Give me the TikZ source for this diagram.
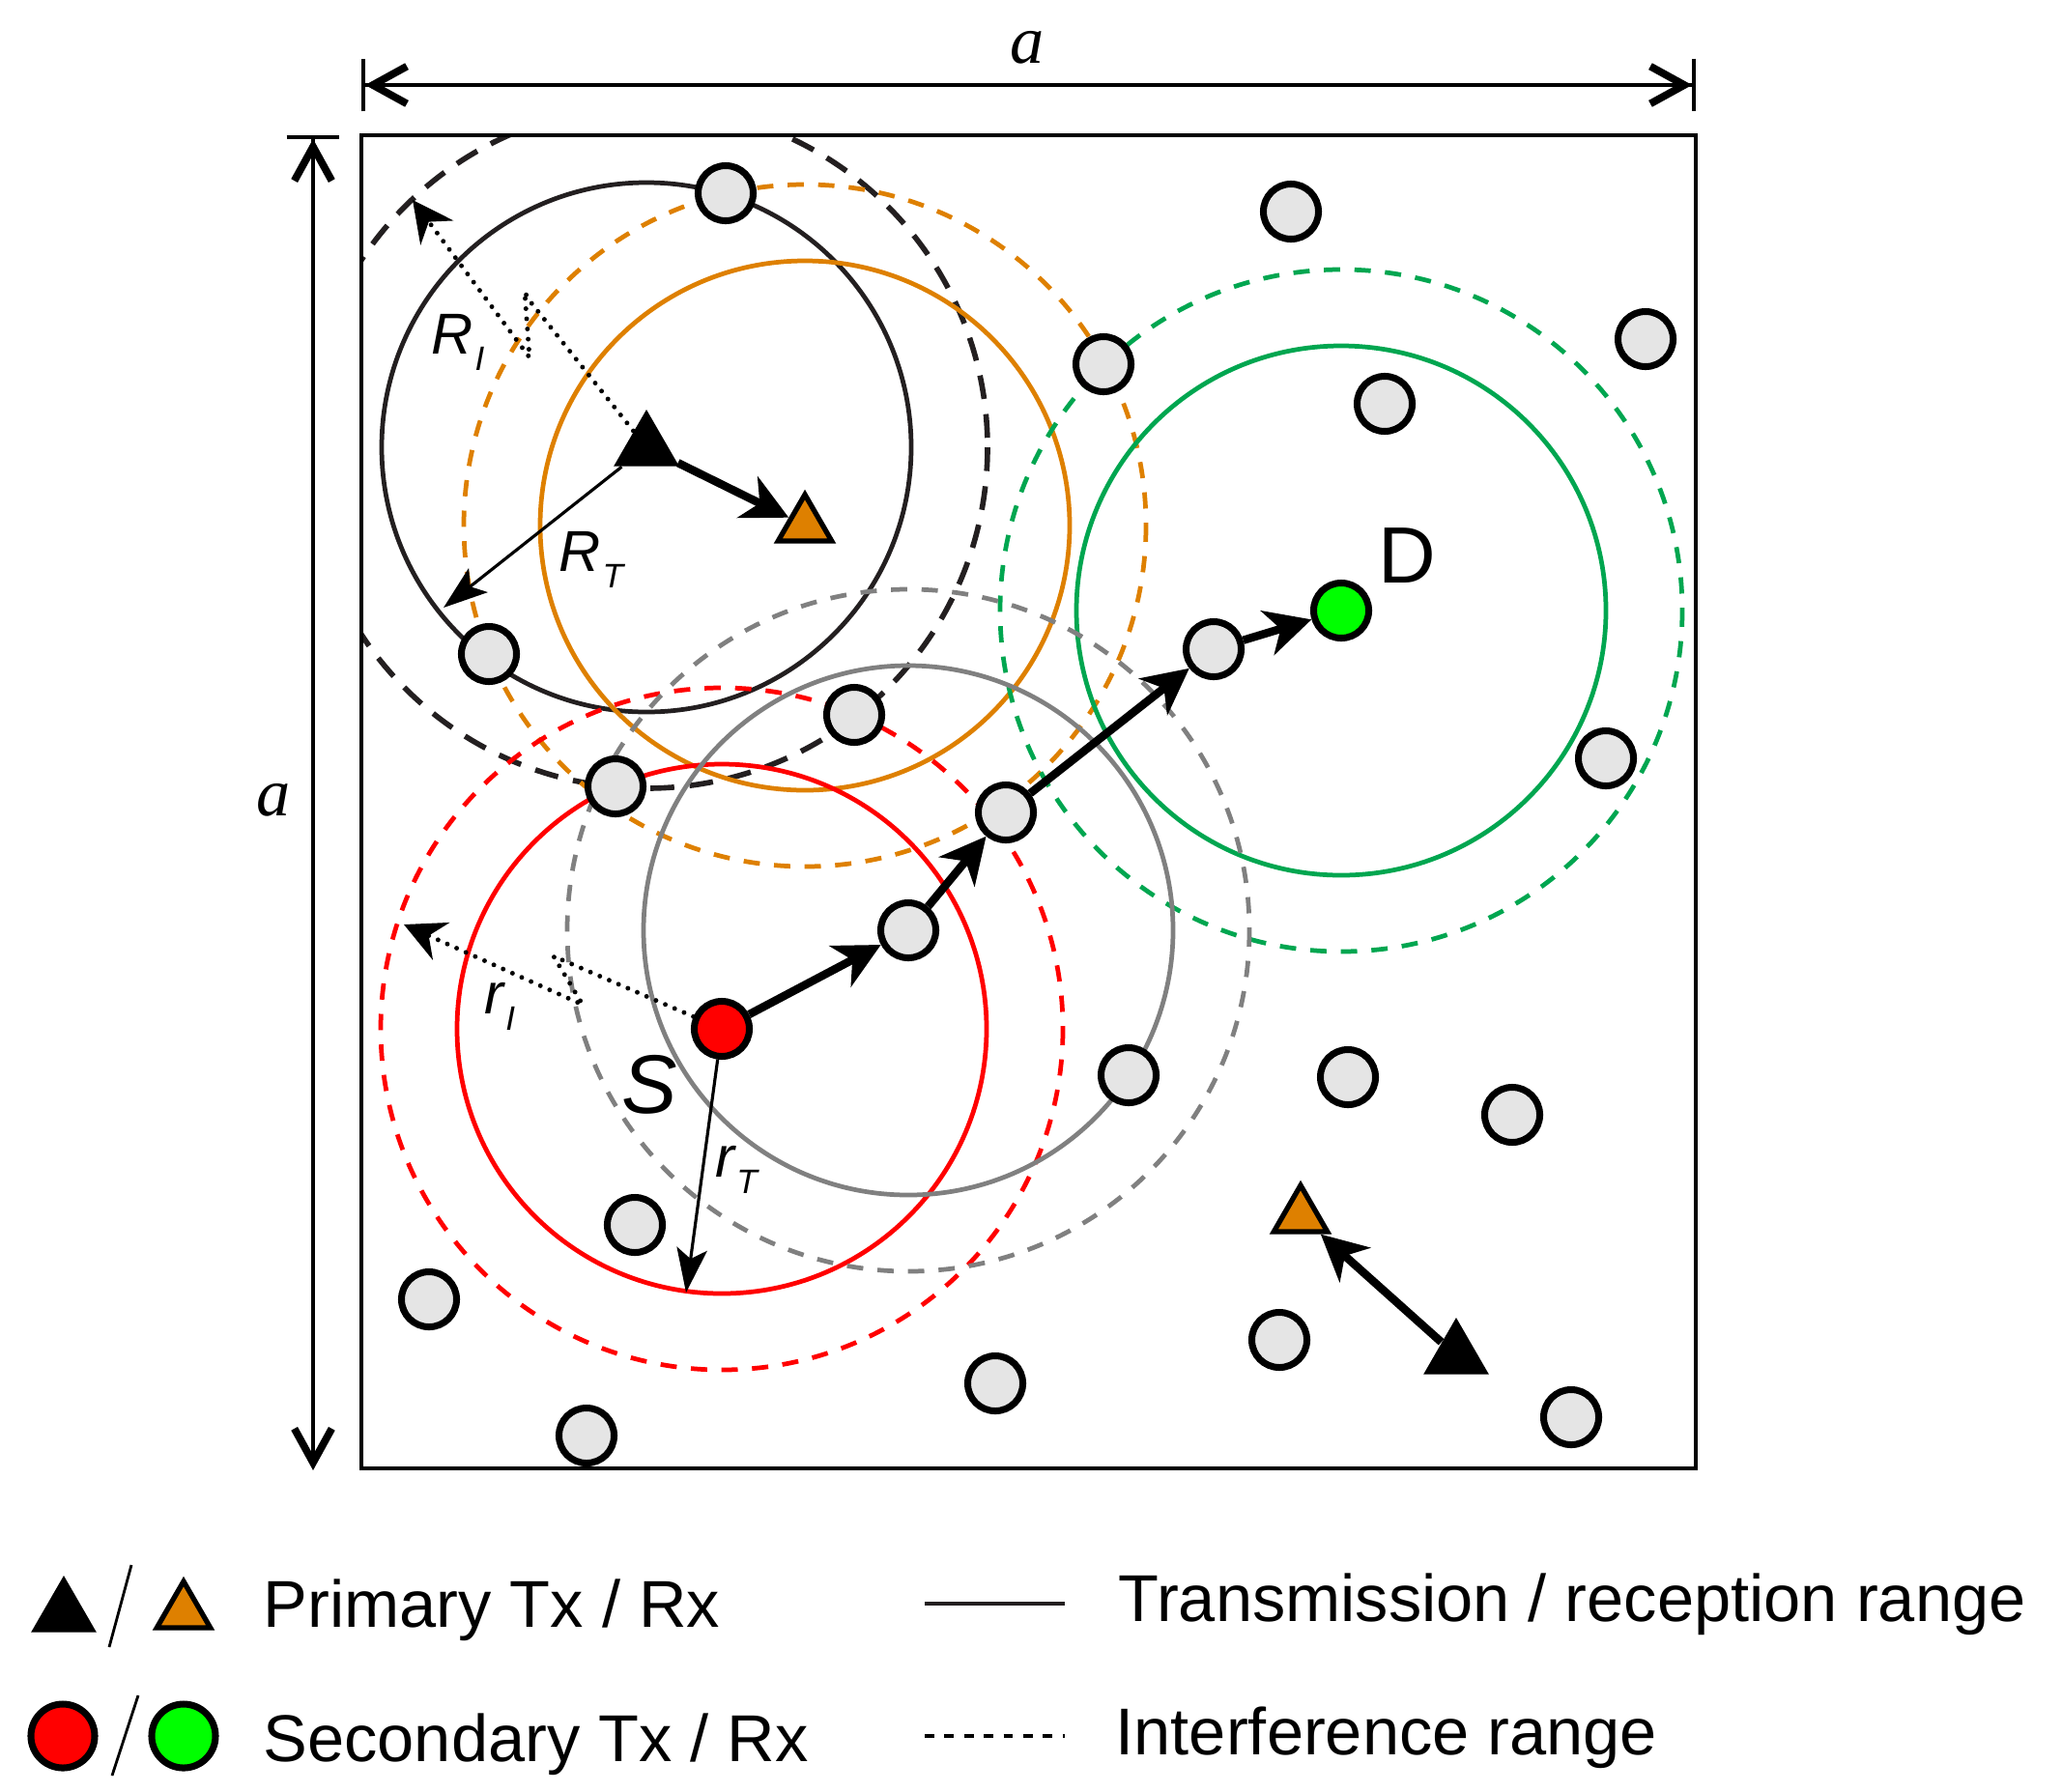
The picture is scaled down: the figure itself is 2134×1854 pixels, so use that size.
\documentclass[tikz,border=0pt]{standalone}
\usepackage{fontspec}
\setmainfont{Liberation Sans}
\newfontfamily\timesfont{Liberation Serif}
\usetikzlibrary{arrows.meta,shapes.geometric,backgrounds}

\definecolor{rxorange}{RGB}{222,128,0}
\definecolor{rangegreen}{RGB}{0,166,80}
\definecolor{dgreen}{RGB}{0,255,0}
\definecolor{relaygray}{RGB}{229,229,229}
\definecolor{rangegray}{RGB}{128,128,128}
\definecolor{rangeblack}{RGB}{35,31,32}

\newcommand{\lowsub}[1]{\kern0.5pt\raisebox{-5pt}{\fontsize{10}{10}\selectfont #1}}

\tikzset{
  relay/.style={circle, draw, line width=2pt, fill=relaygray, minimum size=0.57cm, inner sep=0pt},
  sutx/.style={relay, fill=red},
  surx/.style={relay, fill=dgreen},
  putx/.style={regular polygon, regular polygon sides=3, fill=black, minimum size=0.78cm, inner sep=0pt},
  purx/.style={regular polygon, regular polygon sides=3, draw, line width=1.5pt, fill=rxorange, minimum size=0.64cm, inner sep=0pt},
  txrange/.style={line width=1.35pt},
  irange/.style={line width=1.35pt, dash pattern=on 4.8pt off 4.2pt},
  blackirange/.style={line width=1.6pt, dash pattern=on 7pt off 4.5pt},
  hop/.style={line width=2.4pt, -{Stealth[length=13.5pt,width=13.5pt,inset=4pt]}},
  radarrow/.style={line width=0.9pt, -{Stealth[length=13pt,width=9pt,inset=3pt]}},
  dotarrow/.style={line width=1.4pt, dash pattern=on 0pt off 3pt, line cap=round, -{Stealth[length=12pt,width=12pt,inset=4pt]}},
  dimtop/.style={line width=1.1pt, {Bar[width=15.6pt]Straight Barb[length=10pt,width=11pt,line width=2.2pt]}-{Straight Barb[length=10pt,width=11pt,line width=2.2pt]Bar[width=15.6pt]}},
  dimleft/.style={line width=1.1pt, {Bar[width=15.6pt]Straight Barb[length=10pt,width=11pt,line width=2.2pt]}-{Straight Barb[length=10pt,width=11pt,line width=2.2pt]}},
  rlabel/.style={anchor=base west, inner sep=0pt, font=\fontsize{17}{17}\selectfont\itshape},
  legendtext/.style={anchor=base west, inner sep=0pt, font=\fontsize{19.5}{22}\selectfont}
}

\begin{document}
\begin{tikzpicture}[x=0.01cm, y=-0.01cm]
    \useasboundingbox (0,0) rectangle (2134,1854);

    % Area a x a
    \coordinate (boxNW) at (374,140);
    \coordinate (boxSE) at (1755,1520);
    \draw[line width=1.1pt] (boxNW) rectangle (boxSE);
    \coordinate (topL) at (374,88);
    \coordinate (topR) at (1755,88);
    \draw[dimtop] (topL) -- (topR);
    \node[anchor=base, font=\fontsize{20}{20}\selectfont\timesfont\itshape] (atop) at (1063,65) {a};
    \coordinate (leftT) at (324,140);
    \coordinate (leftB) at (324,1522);
    \draw[dimleft] (leftT) -- (leftB);
    \node[anchor=base, font=\fontsize{20}{20}\selectfont\timesfont\itshape] (aleft) at (283,844) {a};

    % Primary users
    \node[putx] (Tx1) at (669,463) {};
    \node[purx] (Rx1) at (833,544) {};
    \node[purx] (Rx2) at (1346,1259) {};
    \node[putx] (Tx2) at (1507,1403) {};

    % Secondary source, destination and relays on the route
    \node[sutx] (S) at (747,1065) {};
    \node[surx] (D) at (1388,632) {};
    \node[relay] (h1) at (940,963) {};
    \node[relay] (h2) at (1041,841) {};
    \node[relay] (h3) at (1256,672) {};

    % Other secondary users
    \node[relay] (r1) at (751,200) {};
    \node[relay] (r2) at (1336,219) {};
    \node[relay] (r3) at (1703,351) {};
    \node[relay] (r4) at (1142,377) {};
    \node[relay] (r5) at (1433,418) {};
    \node[relay] (r6) at (506,677) {};
    \node[relay] (r8) at (884,740) {};
    \node[relay] (r9) at (637,814) {};
    \node[relay] (r12) at (1662,785) {};
    \node[relay] (r13) at (1168,1113) {};
    \node[relay] (r14) at (1395,1115) {};
    \node[relay] (r15) at (1565,1154) {};
    \node[relay] (r16) at (657,1268) {};
    \node[relay] (r17) at (444,1345) {};
    \node[relay] (r18) at (1324,1387) {};
    \node[relay] (r19) at (1030,1432) {};
    \node[relay] (r20) at (607,1486) {};
    \node[relay] (r21) at (1626,1467) {};

    % Ranges
    \begin{scope}[on background layer]
        \clip (boxNW) rectangle (boxSE);
        \draw[txrange, rangeblack] (Tx1) circle[radius=274];
        \draw[blackirange, rangeblack] (Tx1) circle[radius=353];
        \draw[txrange, rxorange] (Rx1) circle[radius=274];
        \draw[irange, rxorange] (Rx1) circle[radius=353];
        \draw[txrange, rangegreen] (D) circle[radius=274];
        \draw[irange, rangegreen] (D) circle[radius=353];
        \draw[txrange, red] (S) circle[radius=274];
        \draw[irange, red] (S) circle[radius=353];
        \draw[txrange, rangegray] (h1) circle[radius=274];
        \draw[irange, rangegray] (h1) circle[radius=353];
    \end{scope}

    % Links
    \draw[hop] (Tx1) -- (Rx1);
    \draw[hop] (Tx2) -- (Rx2);
    \draw[hop] (S) -- (h1);
    \draw[hop] (h1) -- (h2);
    \draw[hop] (h2) -- (h3);
    \draw[hop] (h3) -- (D);

    % Radii
    \coordinate (RTend) at (459,629);
    \draw[radarrow] (Tx1) -- (RTend);
    \node[rlabel] (RTlab) at (578,591) {R\lowsub{T}};
    \coordinate (RIa) at (547,310);
    \coordinate (RIb) at (543,302);
    \coordinate (RIc) at (548,370);
    \coordinate (RIend) at (427,207);
    \draw[dotarrow] (Tx1) -- (RIa) -- (RIb) -- (RIc) -- (RIend);
    \node[rlabel] (RIlab) at (446,366) {R\lowsub{I}};
    \coordinate (rTend) at (710,1338);
    \draw[radarrow] (S) -- (rTend);
    \node[rlabel] (rTlab) at (740,1218) {r\lowsub{T}};
    \coordinate (rIa) at (585,995);
    \coordinate (rIb) at (573,990);
    \coordinate (rIc) at (603,1040);
    \coordinate (rIend) at (418,957);
    \draw[dotarrow] (S) -- (rIa) -- (rIb) -- (rIc) -- (rIend);
    \node[rlabel] (rIlab) at (501,1049) {r\lowsub{I}};

    \node[anchor=base, font=\fontsize{24.5}{24.5}\selectfont\itshape] (Slab) at (672,1152) {S};
    \node[anchor=base, font=\fontsize{23.5}{23.5}\selectfont] (Dlab) at (1456,603) {D};

    % Legend
    \node[putx] (lgTx) at (66,1670) {};
    \node[purx] (lgRx) at (190,1669) {};
    \coordinate (slashAa) at (136,1620);
    \coordinate (slashAb) at (113,1705);
    \draw[line width=0.8pt] (slashAa) -- (slashAb);
    \node[legendtext] (lgPrim) at (272,1684) {Primary Tx / Rx};
    \node[sutx, minimum size=0.66cm] (lgS) at (65,1797) {};
    \node[surx, minimum size=0.66cm] (lgD) at (190,1797) {};
    \coordinate (slashBa) at (143,1755);
    \coordinate (slashBb) at (116,1838);
    \draw[line width=0.8pt] (slashBa) -- (slashBb);
    \node[legendtext] (lgSec) at (272,1823) {Secondary Tx / Rx};
    \coordinate (lgLa) at (957,1660);
    \coordinate (lgLb) at (1102,1660);
    \draw[line width=1.3pt, rangeblack] (lgLa) -- (lgLb);
    \node[legendtext] (lgTr) at (1157,1678) {Transmission / reception range};
    \coordinate (lgDa) at (957,1797);
    \coordinate (lgDb) at (1102,1797);
    \draw[line width=1.3pt, dash pattern=on 2.8pt off 3pt] (lgDa) -- (lgDb);
    \node[legendtext] (lgIf) at (1154,1816) {Interference range};
\end{tikzpicture}
\end{document}
